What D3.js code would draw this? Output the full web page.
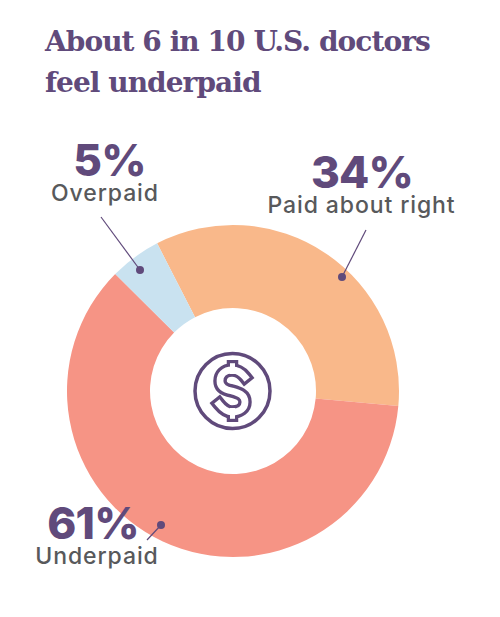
<!DOCTYPE html>
<html>
<head>
<meta charset="utf-8">
<script src="https://cdn.jsdelivr.net/npm/d3@7"></script>
<style>
  html, body { margin: 0; padding: 0; background: #fff; }
  svg { display: block; }
  .title { font-family: "DejaVu Serif", serif; font-weight: bold; fill: #604a7b; }
  .pct { font-family: Inter, sans-serif; font-weight: 800; fill: #604a7b; }
  .lab { font-family: Inter, sans-serif; font-weight: 500; fill: #58595b; }
</style>
</head>
<body>
<div id="chart"></div>
<script>
var title_lines = ["About 6 in 10 U.S. doctors", "feel underpaid"];
var categories = ["Paid about right", "Underpaid", "Overpaid"];
var values = [34, 61, 5];
var colors = ["#f9b88a", "#f69485", "#c9e2f0"];

var width = 500, height = 617;
var purple = "#604a7b";

var svg = d3.select("#chart")
    .append("svg")
    .attr("width", width)
    .attr("height", height);

// title
svg.selectAll(".title")
    .data(title_lines)
    .enter().append("text")
    .attr("class", "title")
    .attr("x", 45)
    .attr("y", function(d, i) { return 51 + i * 41; })
    .style("font-size", "28px")
    .style("letter-spacing", "-0.95px")
    .text(function(d) { return d; });

// donut
var pie = d3.pie()
    .sort(null)
    .startAngle(-27.2 * Math.PI / 180)
    .endAngle((360 - 27.2) * Math.PI / 180);

var arc = d3.arc().innerRadius(83).outerRadius(166);

var donut = svg.append("g")
    .attr("transform", "translate(233,391)");

donut.selectAll("path")
    .data(pie(values))
    .enter().append("path")
    .attr("d", arc)
    .attr("fill", function(d, i) { return colors[i]; });

// labels and leaders, same order as categories
var anno = [
    {px: 362, py: 188, lx: 361.5, ly: 212.5, x1: 366, y1: 230, x2: 342, y2: 277},
    {px: 93, py: 539, lx: 97, ly: 564, x1: 147, y1: 540, x2: 161, y2: 525},
    {px: 109.5, py: 176, lx: 105, ly: 201, x1: 101, y1: 217, x2: 140, y2: 270}
];

anno.forEach(function(a, i) {
    svg.append("line")
        .attr("x1", a.x1).attr("y1", a.y1)
        .attr("x2", a.x2).attr("y2", a.y2)
        .attr("stroke", purple)
        .attr("stroke-width", 1.2);
    svg.append("circle")
        .attr("cx", a.x2).attr("cy", a.y2).attr("r", 4)
        .attr("fill", purple);
    svg.append("text")
        .attr("class", "pct")
        .attr("x", a.px).attr("y", a.py)
        .attr("text-anchor", "middle")
        .style("font-size", "44px")
        .style("letter-spacing", "-0.8px")
        .text(values[i] + "%");
    svg.append("text")
        .attr("class", "lab")
        .attr("x", a.lx).attr("y", a.ly)
        .attr("text-anchor", "middle")
        .style("font-size", "23px")
        .style("letter-spacing", "0.9px")
        .text(categories[i]);
});

// dollar icon
var icon = svg.append("g");
icon.append("circle")
    .attr("cx", 232.5).attr("cy", 391).attr("r", 37.5)
    .attr("fill", "none")
    .attr("stroke", purple)
    .attr("stroke-width", 3.5);

var s_path = "M245,377C241,372 237,370 232,370C224,370 220,375 220,381C220,388 226,390 232,391C239,393 245,395 245,402C245,408 240,412 232,412C227,412 223,409 219,404";
var stubs = [[360, 374], [408, 422]];

icon.append("path").attr("d", s_path)
    .attr("fill", "none").attr("stroke", purple)
    .attr("stroke-width", 13.5).attr("stroke-linecap", "square");
icon.selectAll(".stubo").data(stubs).enter().append("line")
    .attr("x1", 232.5).attr("x2", 232.5)
    .attr("y1", function(d) { return d[0]; })
    .attr("y2", function(d) { return d[1]; })
    .attr("stroke", purple).attr("stroke-width", 11.5);
icon.selectAll(".stubi").data(stubs).enter().append("line")
    .attr("x1", 232.5).attr("x2", 232.5)
    .attr("y1", function(d, i) { return i ? d[0] : d[0] + 3.2; })
    .attr("y2", function(d, i) { return i ? d[1] - 3.2 : d[1]; })
    .attr("stroke", "#fff").attr("stroke-width", 5);
icon.append("path").attr("d", s_path)
    .attr("fill", "none").attr("stroke", "#fff")
    .attr("stroke-width", 6.8).attr("stroke-linecap", "square");
</script>
</body>
</html>
